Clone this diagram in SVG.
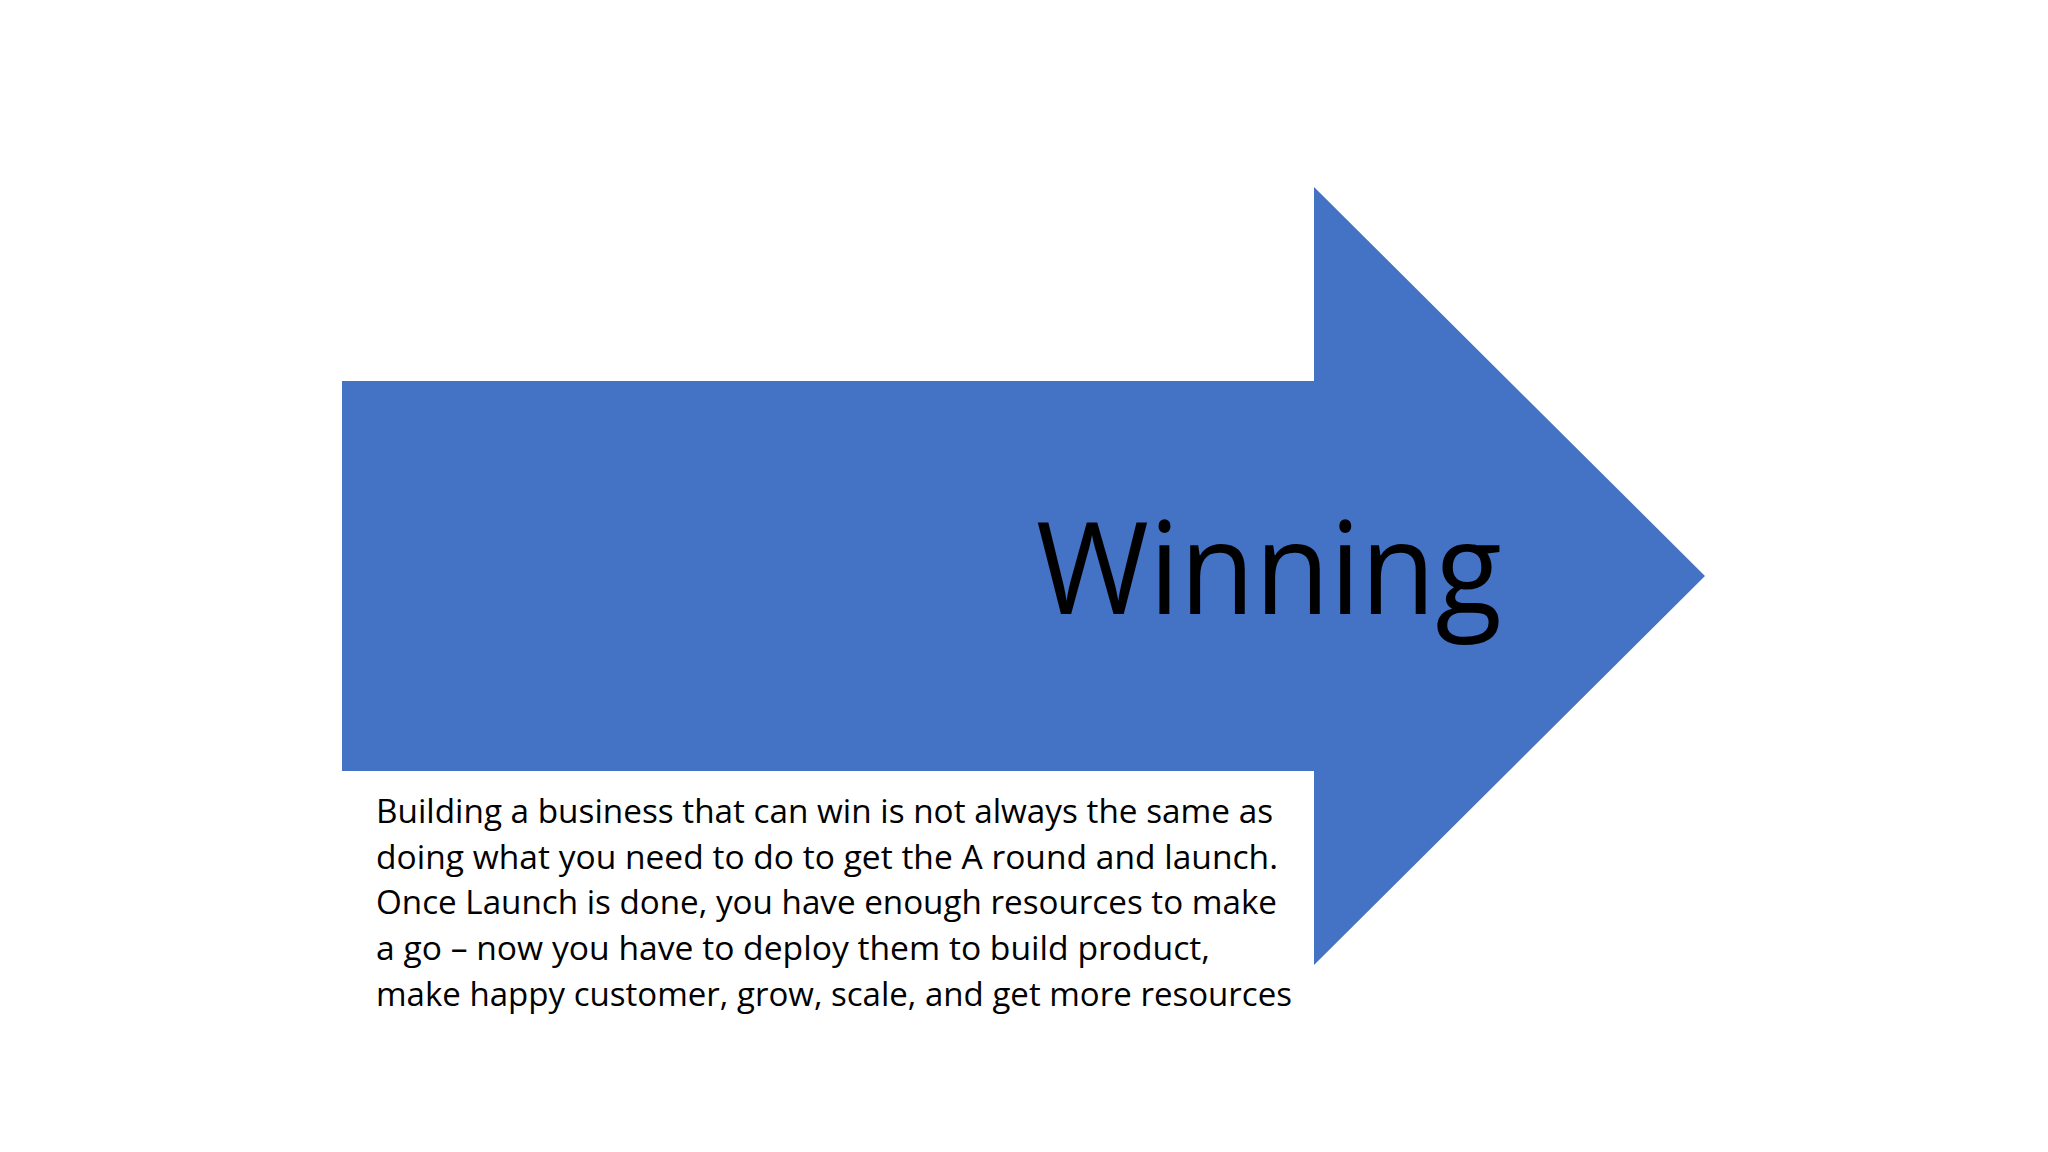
<svg xmlns="http://www.w3.org/2000/svg" width="2048" height="1152" viewBox="0 0 2048 1152">
<style>
.body{font-family:"Open Sans","Liberation Sans",sans-serif;font-size:33px;fill:#000}
.title{font-family:"Open Sans","Liberation Sans",sans-serif;font-size:128px;fill:#000}
</style>
<rect width="2048" height="1152" fill="#fff"/>
<g id="arrow">
<polygon points="342,381 1314,381 1314,187 1705,576 1314,965 1314,771 342,771" fill="#4472C4"/>
<text class="title" x="1036" y="614" textLength="466" lengthAdjust="spacingAndGlyphs">Winning</text>
</g>
<g id="description">
<text class="body" x="376" y="823" textLength="897" lengthAdjust="spacingAndGlyphs">Building a business that can win is not always the same as</text>
<text class="body" x="376" y="869" textLength="902" lengthAdjust="spacingAndGlyphs">doing what you need to do to get the A round and launch.</text>
<text class="body" x="376" y="914" textLength="901" lengthAdjust="spacingAndGlyphs">Once Launch is done, you have enough resources to make</text>
<text class="body" x="376" y="960" textLength="834" lengthAdjust="spacingAndGlyphs">a go – now you have to deploy them to build product,</text>
<text class="body" x="376" y="1006" textLength="916" lengthAdjust="spacingAndGlyphs">make happy customer, grow, scale, and get more resources</text>
</g>
</svg>
